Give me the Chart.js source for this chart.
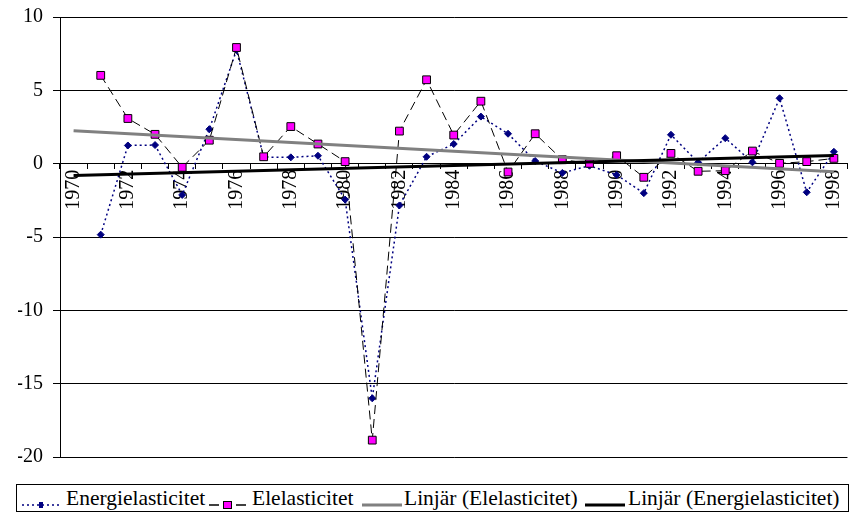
<!DOCTYPE html>
<html>
<head>
<meta charset="utf-8">
<script src="https://cdn.jsdelivr.net/npm/chart.js@4/dist/chart.umd.min.js"></script>
<style>
  html, body { margin: 0; padding: 0; background: #fff; }
  #wrap { position: relative; width: 859px; height: 513px; overflow: hidden; }
  #chart { position: absolute; left: 0; top: -5px; }
  #legend {
    position: absolute; left: 16px; top: 484px; width: 831px; height: 26px;
    border: 1px solid #000; box-sizing: content-box; background: #fff;
    font-family: "Liberation Serif", "Times New Roman", serif; font-size: 21.5px; color: #000;
    white-space: nowrap;
  }
  .mk { position: absolute; top: 7px; }
  .tx { position: absolute; top: 0; line-height: 26px; }
</style>
</head>
<body>
<div id="wrap">
  <canvas id="chart" width="859" height="518"></canvas>
  <div id="legend"></div>
</div>
<script>
// Years on the category axis
const years = ['1970','1971','1972','1973','1974','1975','1976','1977','1978','1979',
  '1980','1981','1982','1983','1984','1985','1986','1987','1988','1989',
  '1990','1991','1992','1993','1994','1995','1996','1997','1998'];

// Energy elasticity per year
const energiElasticitet = [null, -4.84, 1.24, 1.27, -2.13, 2.35, 7.74, 0.45, 0.43, 0.54,
  -2.45, -16.0, -2.85, 0.47, 1.34, 3.21, 2.04, 0.18, -0.63, -0.14,
  -0.77, -2.01, 1.97, 0.09, 1.74, 0.09, 4.46, -1.95, 0.81];

// Electricity elasticity per year
const elElasticitet = [null, 6.02, 3.08, 2.0, -0.25, 1.6, 7.92, 0.47, 2.53, 1.34,
  0.14, -18.85, 2.22, 5.72, 1.95, 4.26, -0.57, 2.04, 0.27, 0.02,
  0.54, -0.93, 0.7, -0.52, -0.48, 0.86, 0.02, 0.14, 0.36];

// Linear trend end points (first and last year)
const trendEl = [2.24, -0.55];
const trendEnergi = [-0.81, 0.55];

// Y axis range and step
const yMin = -20, yMax = 10, yStep = 5;

const legendNames = ['Energielasticitet', 'Elelasticitet', 'Linjär (Elelasticitet)', 'Linjär (Energielasticitet)'];

function endpoints(pair) {
  return years.map((_, i) => i === 0 ? pair[0] : (i === years.length - 1 ? pair[1] : null));
}

const FONT = { family: '"Liberation Serif", "Times New Roman", serif', size: 20 };

new Chart(document.getElementById('chart'), {
  type: 'line',
  data: {
    labels: years,
    datasets: [
      {
        label: legendNames[0], data: energiElasticitet, order: 4,
        borderColor: '#000080', borderWidth: 1.5, borderDash: [2, 3],
        pointStyle: 'rectRot', pointRadius: 3.5,
        pointBackgroundColor: '#000080', pointBorderColor: '#000080', pointBorderWidth: 1,
        tension: 0
      },
      {
        label: legendNames[1], data: elElasticitet, order: 3,
        borderColor: '#000', borderWidth: 1, borderDash: [9, 5],
        pointStyle: 'rect', pointRadius: 5.5,
        pointBackgroundColor: '#FF00FF', pointBorderColor: '#000', pointBorderWidth: 1,
        tension: 0
      },
      {
        label: legendNames[2], data: endpoints(trendEl), order: 2,
        borderColor: '#808080', borderWidth: 3, pointRadius: 0, spanGaps: true
      },
      {
        label: legendNames[3], data: endpoints(trendEnergi), order: 1,
        borderColor: '#000', borderWidth: 3, pointRadius: 0, spanGaps: true
      }
    ]
  },
  options: {
    responsive: false,
    animation: false,
    layout: { padding: { left: 18, right: 7, top: 10, bottom: 56 } },
    plugins: { legend: { display: false }, tooltip: { enabled: false } },
    scales: {
      x: {
        type: 'category',
        position: { y: 0 },
        offset: true,
        grid: { offset: true, drawOnChartArea: false, drawTicks: true, tickLength: 5, color: '#000' },
        border: { color: '#000', width: 1 },
        ticks: {
          autoSkip: false, minRotation: 90, maxRotation: 90, padding: 1,
          color: '#000', font: FONT,
          callback: (v, i) => (i % 2 === 0 ? years[i] : '')
        }
      },
      y: {
        min: yMin, max: yMax,
        afterFit: (s) => { s.width = 42; },
        grid: { color: '#000', lineWidth: 1, tickLength: 7, drawTicks: true },
        border: { color: '#000', width: 1 },
        ticks: { stepSize: yStep, color: '#000', font: FONT, padding: 10 }
      }
    }
  }
});

// HTML legend: line samples and names, left offsets inside the box
const samples = [
  '<svg width="38" height="12"><line x1="0" y1="6" x2="38" y2="6" stroke="#000080" stroke-width="1.5" stroke-dasharray="2 3"/><rect x="17" y="3" width="4" height="6" fill="#000080"/></svg>',
  '<svg width="39" height="12"><line x1="1" y1="6" x2="11" y2="6" stroke="#000" stroke-width="1.5"/><line x1="28" y1="6" x2="38" y2="6" stroke="#000" stroke-width="1.5"/><rect x="15.5" y="2.5" width="8" height="7" fill="#FF00FF" stroke="#000" stroke-width="1"/></svg>',
  '<svg width="40" height="12"><line x1="0" y1="6" x2="40" y2="6" stroke="#808080" stroke-width="3"/></svg>',
  '<svg width="40" height="12"><line x1="0" y1="6" x2="40" y2="6" stroke="#000" stroke-width="3"/></svg>'
];
const markerLeft = [5, 191, 345, 568];
const textLeft = [49, 235, 387, 611];
document.getElementById('legend').innerHTML = legendNames.map((n, i) =>
  '<span class="mk" style="left:' + markerLeft[i] + 'px">' + samples[i] + '</span>' +
  '<span class="tx" style="left:' + textLeft[i] + 'px">' + n + '</span>').join('');
</script>
</body>
</html>
